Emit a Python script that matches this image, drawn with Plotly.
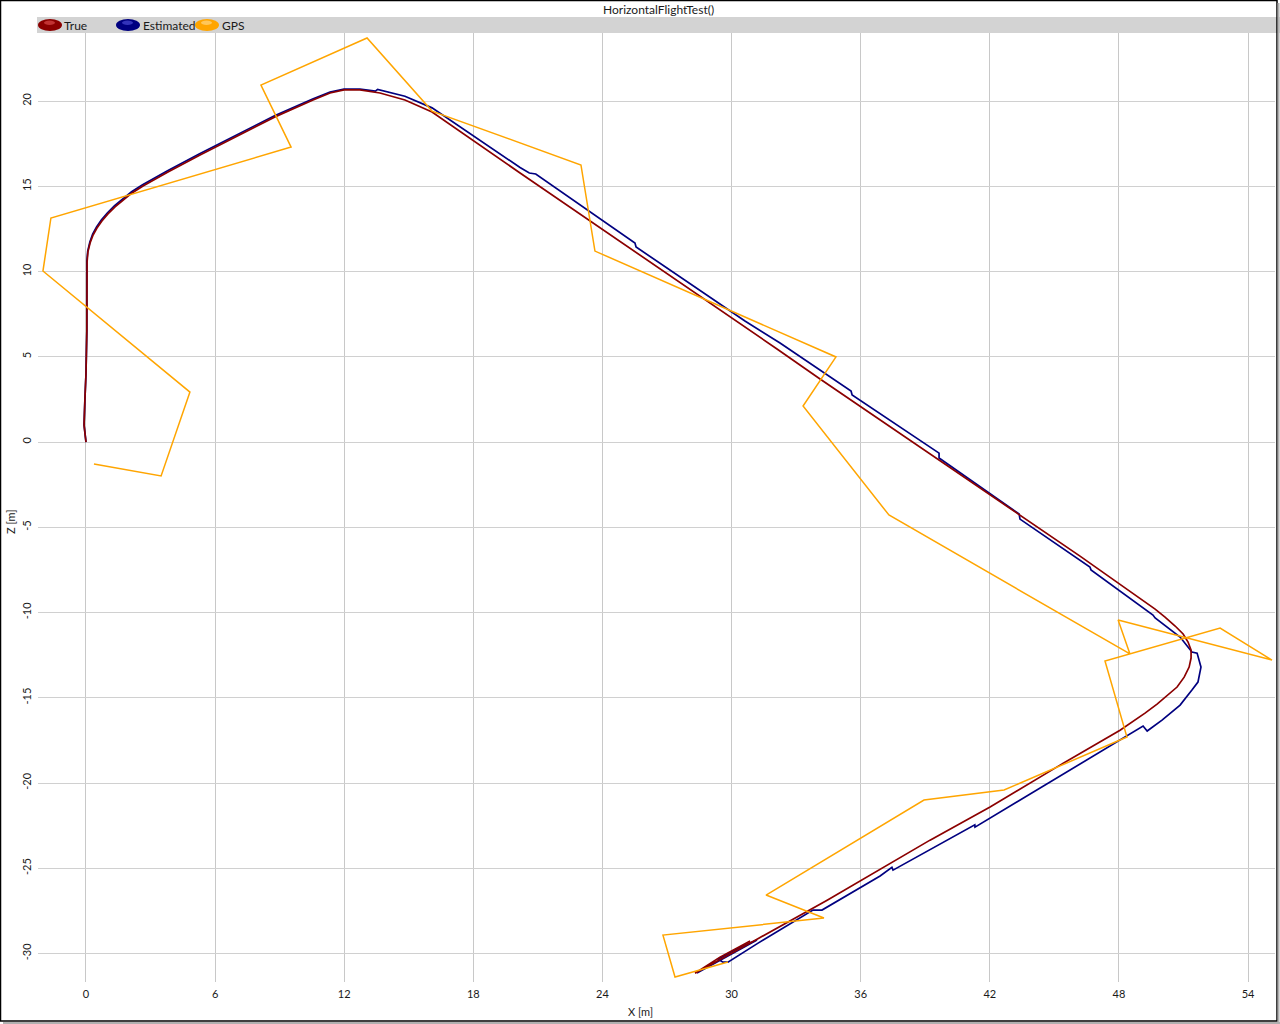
import plotly.graph_objects as go

# ---------------- data ----------------
true_x = [0.0, -0.09, -0.05, 0.0, 0.04, 0.06, 0.05, 0.09, 0.19, 0.33, 0.51, 0.74, 1.02, 1.35,
          1.72, 2.14, 2.65, 3.21, 3.81, 5.30, 6.92, 8.78, 10.55, 11.34, 11.99, 12.73, 13.66,
          14.82, 16.08, 20.17, 32.11, 34.11, 46.19, 49.12, 49.68, 50.14, 50.61, 50.98, 51.21,
          51.35, 51.35, 51.26, 51.03, 50.70, 50.28, 49.77, 49.21, 48.66, 48.05, 45.26, 42.01,
          39.22, 36.90, 34.44, 31.18, 28.30, 29.46, 30.86]
true_z = [0.0, 1.0, 2.5, 4.0, 6.5, 9.0, 10.56, 11.15, 11.67, 12.14, 12.55, 12.96, 13.38, 13.79,
          14.20, 14.61, 15.02, 15.43, 15.84, 16.84, 17.89, 19.07, 20.06, 20.47, 20.65, 20.65, 20.47,
          20.06, 19.36, 15.78, 5.46, 3.70, -6.69, -9.27, -9.80, -10.27, -10.79, -11.26, -11.73,
          -12.20, -12.67, -13.20, -13.79, -14.37, -14.84, -15.37, -15.90, -16.37, -16.90, -18.95, -21.41,
          -23.35, -25.05, -26.87, -29.16, -31.15, -30.21, -29.27]

est_x = [0.0, -0.09, -0.05, 0.0, 0.04, 0.06, 0.04, 0.08, 0.18, 0.31, 0.49, 0.72, 1.0, 1.33,
         1.70, 2.12, 2.63, 3.19, 3.79, 5.28, 6.90, 8.76, 10.53, 11.34, 11.99, 12.73, 13.45,
         13.55, 14.82, 16.08, 20.17, 20.6, 20.9,
         25.51, 25.56, 30.62, 32.25, 34.1, 35.55, 35.6, 39.64, 39.64, 43.36, 43.4, 46.19,
         46.65, 46.7, 49.58, 49.68, 50.84, 51.39, 51.63, 51.81, 51.67, 51.39, 50.84, 50.0,
         49.31, 49.12, 41.31, 41.3, 37.5, 37.45, 36.9, 34.2, 33.78, 31.23, 29.83, 29.6,
         29.37, 30.39, 31.18, 28.39]
est_z = [0.0, 1.0, 2.5, 4.0, 6.5, 9.0, 10.6, 11.2, 11.73, 12.2, 12.62, 13.03, 13.45, 13.86,
         14.27, 14.68, 15.09, 15.5, 15.91, 16.91, 17.96, 19.14, 20.12, 20.52, 20.7, 20.7, 20.58,
         20.68, 20.28, 19.6, 16.1, 15.78, 15.72,
         11.67, 11.44, 7.10, 5.81, 4.22, 2.99, 2.76, -0.65, -0.94, -4.22, -4.52, -6.92,
         -7.33, -7.50, -10.15, -10.32, -11.44, -12.32, -12.38, -13.2, -14.08, -14.55, -15.43, -16.31,
         -16.95, -16.66, -22.59, -22.45, -25.11, -24.95, -25.45, -27.45, -27.45, -29.39, -30.51, -30.51,
         -30.33, -29.63, -29.21, -31.15]

gps_x = [0.37, 3.49, 4.83, -2.0, -1.63, 9.53, 8.13, 13.06, 16.08, 23.0, 23.65, 34.85, 33.32,
         37.31, 48.51, 47.96, 55.11, 52.70, 47.35, 48.37, 42.66, 38.94, 31.6, 34.29, 26.81,
         27.37, 29.83]
gps_z = [-1.29, -1.99, 2.93, 10.03, 13.14, 17.30, 20.94, 23.70, 19.41, 16.25, 11.2, 4.99, 2.11,
         -4.28, -12.43, -10.44, -12.79, -10.91, -12.84, -17.30, -20.41, -21.0, -26.57, -27.92,
         -28.92, -31.38, -30.5]

series_names = ["True", "Estimated", "GPS"]
series_colors = ["#8B0000", "#000080", "#FFA500"]
x_ticks = [0, 6, 12, 18, 24, 30, 36, 42, 48, 54]
z_ticks = [-30, -25, -20, -15, -10, -5, 0, 5, 10, 15, 20]
chart_title = "HorizontalFlightTest()"
x_label = "X [m]"
z_label = "Z [m]"

# ---------------- layout helpers ----------------
W_PX, H_PX = 1280, 1024
L, R, T, B = 38, 5, 33, 42
PW = W_PX - L - R
PH = H_PX - T - B


def px_x(p):
    return (p - L) / PW


def px_y(p):
    return (H_PX - B - p) / PH


FONT = "Segoe UI, Lato, Liberation Sans, sans-serif"

fig = go.Figure()
fig.add_trace(go.Scatter(x=est_x, y=est_z, mode="lines", name=series_names[1],
                         line=dict(color=series_colors[1], width=1.7), showlegend=False))
fig.add_trace(go.Scatter(x=true_x, y=true_z, mode="lines", name=series_names[0],
                         line=dict(color=series_colors[0], width=1.7), showlegend=False))
fig.add_trace(go.Scatter(x=gps_x, y=gps_z, mode="lines", name=series_names[2],
                         line=dict(color=series_colors[2], width=1.5), showlegend=False))

shapes = []
annotations = []

# outer frame
shapes.append(dict(type="rect", xref="paper", yref="paper",
                   x0=px_x(0.5), x1=px_x(1277), y0=px_y(1021), y1=px_y(0.5),
                   line=dict(color="black", width=1.5), fillcolor="rgba(0,0,0,0)", layer="above"))
shapes.append(dict(type="line", xref="paper", yref="paper",
                   x0=px_x(1278.5), x1=px_x(1278.5), y0=px_y(1023), y1=px_y(3),
                   line=dict(color="#b0b0b0", width=2)))
shapes.append(dict(type="line", xref="paper", yref="paper",
                   x0=px_x(3), x1=px_x(1280), y0=px_y(1023), y1=px_y(1023),
                   line=dict(color="#b0b0b0", width=2)))

# legend bar
shapes.append(dict(type="rect", xref="paper", yref="paper",
                   x0=px_x(37), x1=px_x(1280), y0=px_y(33), y1=px_y(17),
                   line=dict(width=0), fillcolor="#d3d3d3", layer="below"))

legend_marker_cx = [50, 128, 207]
legend_text_x = [62, 141, 220]
highlight = ["#d04040", "#4040c8", "#ffd070"]
for i in range(3):
    cx = legend_marker_cx[i]
    shapes.append(dict(type="circle", xref="paper", yref="paper",
                       x0=px_x(cx - 12), x1=px_x(cx + 12), y0=px_y(31), y1=px_y(19),
                       line=dict(width=0), fillcolor=series_colors[i], layer="above"))
    shapes.append(dict(type="circle", xref="paper", yref="paper",
                       x0=px_x(cx - 6), x1=px_x(cx + 5), y0=px_y(25), y1=px_y(20.5),
                       line=dict(width=0), fillcolor=highlight[i], opacity=0.8, layer="above"))
    annotations.append(dict(text=series_names[i], xref="paper", yref="paper",
                            x=px_x(legend_text_x[i]), y=px_y(25.5), xanchor="left",
                            yanchor="middle", showarrow=False,
                            font=dict(family=FONT, size=12, color="#1a1a1a")))

annotations.append(dict(text=chart_title, xref="paper", yref="paper",
                        x=px_x(658), y=px_y(9), xanchor="center", yanchor="middle",
                        showarrow=False, font=dict(family=FONT, size=12, color="#1a1a1a")))
# axis titles
annotations.append(dict(text=x_label, xref="paper", yref="paper",
                        x=px_x(640), y=px_y(1011), xanchor="center", yanchor="middle",
                        showarrow=False, font=dict(family=FONT, size=11, color="#1a1a1a")))
annotations.append(dict(text=z_label, xref="paper", yref="paper", textangle=-90,
                        x=px_x(10), y=px_y(522), xanchor="center", yanchor="middle",
                        showarrow=False, font=dict(family=FONT, size=11, color="#1a1a1a")))

fig.update_layout(
    width=W_PX, height=H_PX,
    margin=dict(l=L, r=R, t=T, b=B, autoexpand=False),
    paper_bgcolor="white", plot_bgcolor="white",
    showlegend=False,
    shapes=shapes, annotations=annotations,
    font=dict(family=FONT, size=11, color="#1a1a1a"),
    xaxis=dict(range=[-2.23, 55.25], tickvals=x_ticks, ticktext=[str(v) for v in x_ticks],
               showgrid=True, gridcolor="#c8c8c8", gridwidth=1, zeroline=False,
               showline=False, ticks="", ticklabelstandoff=4,
               tickfont=dict(size=11), automargin=False),
    yaxis=dict(range=[-31.67, 23.99], tickvals=z_ticks, ticktext=[str(v) for v in z_ticks],
               showgrid=True, gridcolor="#d0d0d0", gridwidth=1, zeroline=False,
               showline=False, ticks="", tickangle=-90, ticklabelstandoff=4,
               tickfont=dict(size=11), automargin=False),
)

fig.write_html("out.html", config={"displayModeBar": False})
